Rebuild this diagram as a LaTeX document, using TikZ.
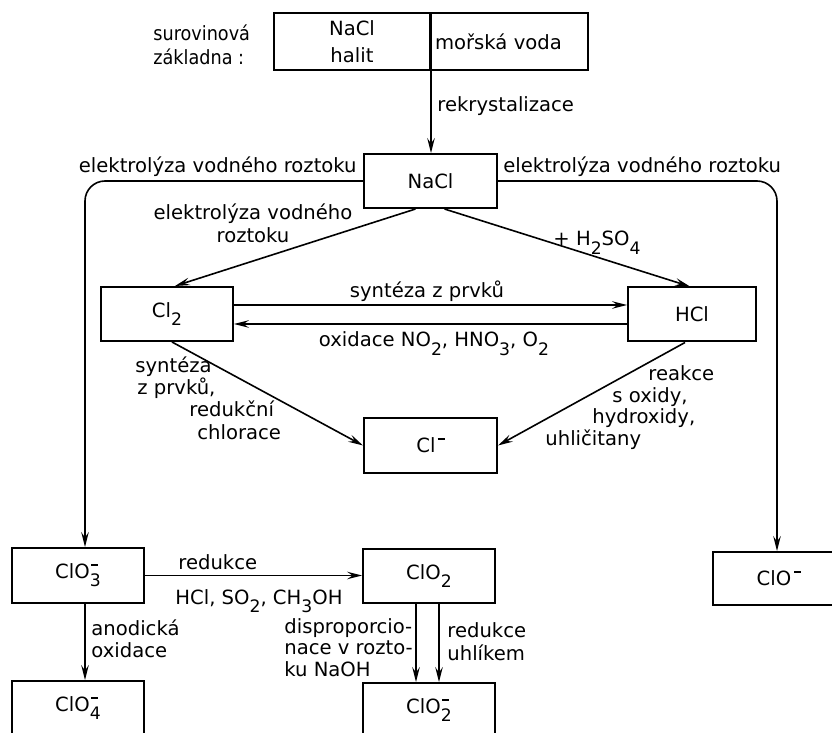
\documentclass[tikz,border=0pt]{standalone}
\usepackage{fontspec}
\setmainfont{DejaVu Sans}
\usetikzlibrary{arrows.meta}
% lowered index digit, raised charge bar, and a bar stacked over an index
\newcommand{\lo}[1]{\raisebox{-0.75ex}{\fontsize{8.6}{9}\selectfont #1}}
\newcommand{\mi}{\raisebox{0.66em}{\rule{0.36em}{0.08em}}}
\newcommand{\lomi}[1]{\makebox[0pt][l]{\hspace{0.08em}\mi}\lo{#1}}
\newcommand{\narrow}[1]{\scalebox{0.9}[1]{#1}}
\begin{document}
\begin{tikzpicture}[x=0.5pt, y=-0.5pt,
  font=\fontsize{9.8}{11.5}\selectfont,
  box/.style={draw, line width=1pt, inner sep=0pt},
  conn/.style={line width=0.8pt, -{Stealth[length=7.5pt,width=3.8pt,inset=2.8pt]}},
  lbl/.style={inner sep=0pt}]
\useasboundingbox (0,0) rectangle (832,733);
\fill[white] (0,0) rectangle (832,733);
\clip (0,0) rectangle (832,733);

% raw material sources
\node[lbl, anchor=west, align=left, font=\fontsize{9.8}{12}\selectfont] (raw) at (153,45) {\narrow{surovinová}\\\narrow{základna :}};
\node[box, minimum width=78pt, minimum height=28.5pt, align=center,
      font=\fontsize{9.8}{13.5}\selectfont] (src1) at (352,41.5) {NaCl\\halit};
\node[box, anchor=west, minimum height=28.5pt, text width=74.5pt, inner xsep=2pt, align=left] (src2) at (430,41.5) {mořská voda};

% compounds
\node[box, minimum width=66.5pt, minimum height=27pt] (nacl) at (430.5,181) {NaCl};
\node[box, minimum width=66pt, minimum height=27pt] (cl2) at (167,314) {Cl\lo{2}};
\node[box, minimum width=64pt, minimum height=27pt] (hcl) at (692,314.5) {HCl};
\node[box, minimum width=66.5pt, minimum height=27.5pt] (clm) at (430.5,445.5) {Cl\hspace{0.1em}\mi};
\node[box, minimum width=66pt, minimum height=27.5pt] (clo3) at (78,575.5) {ClO\lomi{3}};
\node[box, minimum width=66pt, minimum height=27pt] (clo2) at (429,576) {ClO\lo{2}};
\node[box, minimum width=66pt, minimum height=27.5pt] (clo4) at (78,708.5) {ClO\lomi{4}};
\node[box, minimum width=66pt, minimum height=27.5pt] (clo2m) at (429,710.5) {ClO\lomi{2}};
\node[box, minimum width=66pt, minimum height=26.5pt] (clom) at (779,578.5) {ClO\hspace{0.15em}\mi};

% reactions
\draw[conn] (src1.south east) -- (src1.south east |- nacl.north);
\node[lbl, anchor=base west] (rek) at (437,112) {rekrystalizace};

\draw[conn, rounded corners=10pt] (nacl.west) -| ([xshift=3.5pt]clo3.north);
\node[lbl, anchor=base east] (elL) at (357,173) {elektrolýza vodného roztoku};
\draw[conn, rounded corners=10pt] (nacl.east) -| ([xshift=-1pt]clom.north);
\node[lbl, anchor=base west] (elR) at (503,173) {elektrolýza vodného roztoku};

\draw[conn] ([xshift=-7.5pt]nacl.south) -- ([xshift=4pt]cl2.north);
\node[lbl, align=center] (elC) at (253,223.5) {elektrolýza vodného\\roztoku};
\draw[conn] ([xshift=7pt]nacl.south) -- ([xshift=-1pt]hcl.north);
\node[lbl, anchor=base west] (h2so4) at (553,246) {+ H\lo{2}SO\lo{4}};

\draw[conn] ([yshift=4.5pt]cl2.east) -- ([yshift=4.5pt]cl2.east -| hcl.west);
\node[lbl, anchor=base] (synt) at (427,297.5) {syntéza z prvků};
\draw[conn] ([yshift=-4.75pt]hcl.west) -- ([yshift=-4.75pt]hcl.west -| cl2.east);
\node[lbl, anchor=base] (oxid) at (434,347) {oxidace NO\lo{2}, HNO\lo{3}, O\lo{2}};

\draw[conn] ([xshift=2.5pt]cl2.south) -- (clm.west);
\node[lbl, anchor=west, align=left, font=\fontsize{9.8}{11.2}\selectfont] (redchl) at (135,398)
  {syntéza\\\hspace*{1pt}z prvků,\\\hspace*{27pt}redukční\\\hspace*{31pt}chlorace};
\draw[conn] ([xshift=-3.5pt]hcl.south) -- (clm.east);
\node[lbl, anchor=west, align=left, font=\fontsize{9.8}{10.9}\selectfont] (reak) at (545,407.5)
  {\hspace*{51.5pt}reakce\\\hspace*{33.5pt}s oxidy,\\\hspace*{23.5pt}hydroxidy,\\uhličitany};

\draw[conn] (clo3.east) -- (clo3.east -| clo2.west);
\node[lbl, anchor=base west] (red1) at (178,569) {redukce};
\node[lbl, anchor=base west] (red2) at (175,604) {HCl, SO\lo{2}, CH\lo{3}OH};

\draw[conn] ([xshift=3.5pt]clo3.south) -- ([xshift=3.5pt]clo4.north);
\node[lbl, anchor=west, align=left, font=\fontsize{9.8}{11}\selectfont] (anod) at (91,639) {anodická\\oxidace};

\draw[conn] ([xshift=-6.5pt]clo2.south) -- ([xshift=-6.5pt]clo2m.north);
\node[lbl, anchor=west, align=left, font=\fontsize{9.8}{10.75}\selectfont] (disp) at (284,647.5)
  {disproporcio-\\nace v rozto-\\ku NaOH};
\draw[conn] ([xshift=5pt]clo2.south) -- ([xshift=5pt]clo2m.north);
\node[lbl, anchor=west, align=left] (uhl) at (447,641.5) {redukce\\uhlíkem};
\end{tikzpicture}
\end{document}
